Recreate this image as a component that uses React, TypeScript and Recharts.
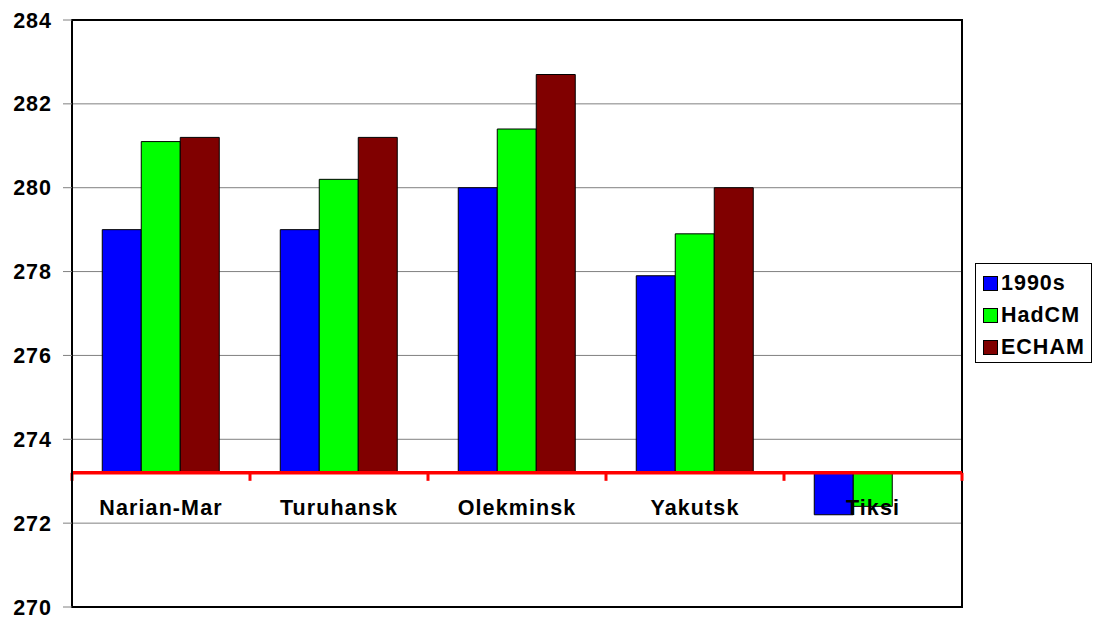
import { Bar, BarChart, CartesianGrid, ReferenceArea, ReferenceLine, XAxis, YAxis } from "recharts";

const stations = ["Narian-Mar", "Turuhansk", "Olekminsk", "Yakutsk", "Tiksi"];
const obs1990s = [279.0, 279.0, 280.0, 277.9, 272.2];
const hadcm = [281.1, 280.2, 281.4, 278.9, 272.4];
const echam: (number | null)[] = [281.2, 281.2, 282.7, 280.0, null];
const yTicks = [270, 272, 274, 276, 278, 280, 282, 284];
const crossing = 273.2;

const seriesInfo = [
  { key: "obs", name: "1990s", color: "#0000ff" },
  { key: "had", name: "HadCM", color: "#00ff00" },
  { key: "ech", name: "ECHAM", color: "#800000" },
];

const rows = stations.map((name, i) => ({
  name,
  obs: obs1990s[i],
  had: hadcm[i],
  ech: echam[i],
}));

const FONT = '"Liberation Sans", Arial, sans-serif';

function fromCrossing(key: string) {
  return (row: any) => {
    const v = row[key];
    if (v == null) return null;
    return v >= crossing ? [crossing, v] : [v, crossing];
  };
}

function CrossingAxis(props: any) {
  const { x1, y1, x2 } = props;
  const step = (x2 - x1) / stations.length;
  return (
    <g>
      <line x1={x1} y1={y1} x2={x2} y2={y1} stroke="#ff0000" strokeWidth={3.5} />
      {stations.map((_, i) => (
        <line
          key={"t" + i}
          x1={x1 + i * step}
          y1={y1}
          x2={x1 + i * step}
          y2={y1 + 8}
          stroke="#ff0000"
          strokeWidth={3}
        />
      ))}
      <line x1={x2} y1={y1} x2={x2} y2={y1 + 8} stroke="#ff0000" strokeWidth={3} />
      {stations.map((s, i) => (
        <text
          key={s}
          x={x1 + (i + 0.5) * step}
          y={y1 + 42}
          textAnchor="middle"
          fontFamily={FONT}
          fontWeight="bold"
          fontSize={21.5}
          letterSpacing={1.1}
          fill="#000"
        >
          {s}
        </text>
      ))}
    </g>
  );
}

function LegendBox() {
  return (
    <div
      style={{
        position: "absolute",
        left: 975,
        top: 263,
        width: 117,
        height: 100,
        boxSizing: "border-box",
        border: "1px solid #000",
        background: "#fff",
        padding: "3px 0 0 7px",
        fontFamily: FONT,
        fontWeight: "bold",
        fontSize: 21.5,
        letterSpacing: 1,
      }}
    >
      {seriesInfo.map((s) => (
        <div key={s.key} style={{ display: "flex", alignItems: "center", height: 32 }}>
          <span
            style={{
              display: "inline-block",
              width: 13,
              height: 13,
              background: s.color,
              border: "1px solid #000",
              marginRight: 3,
            }}
          />
          {s.name}
        </div>
      ))}
    </div>
  );
}

export default function App() {
  return (
    <div style={{ position: "absolute", left: 0, top: 0, width: 1095, height: 621, background: "#fff" }}>
      <BarChart
        width={1095}
        height={621}
        data={rows}
        margin={{ top: 20, right: 133, bottom: 14, left: 0 }}
        barCategoryGap="17%"
        barGap={0}
      >
        <CartesianGrid horizontal vertical={false} stroke="#808080" strokeWidth={1} />
        <XAxis dataKey="name" hide />
        <YAxis
          domain={[270, 284]}
          ticks={yTicks}
          interval={0}
          width={72}
          tickSize={9}
          tickMargin={11}
          axisLine={{ stroke: "#000", strokeWidth: 2 }}
          tickLine={{ stroke: "#808080" }}
          tick={{ fill: "#000", fontSize: 21.5, fontWeight: "bold", fontFamily: FONT, letterSpacing: 1 }}
        />
        {seriesInfo.map((s) => (
          <Bar
            key={s.key}
            dataKey={fromCrossing(s.key)}
            name={s.name}
            fill={s.color}
            stroke="#000"
            strokeWidth={1}
            isAnimationActive={false}
          />
        ))}
        <ReferenceArea y1={270} y2={284} fill="none" stroke="#000" strokeWidth={2} />
        <ReferenceLine y={crossing} shape={<CrossingAxis />} />
      </BarChart>
      <LegendBox />
    </div>
  );
}
